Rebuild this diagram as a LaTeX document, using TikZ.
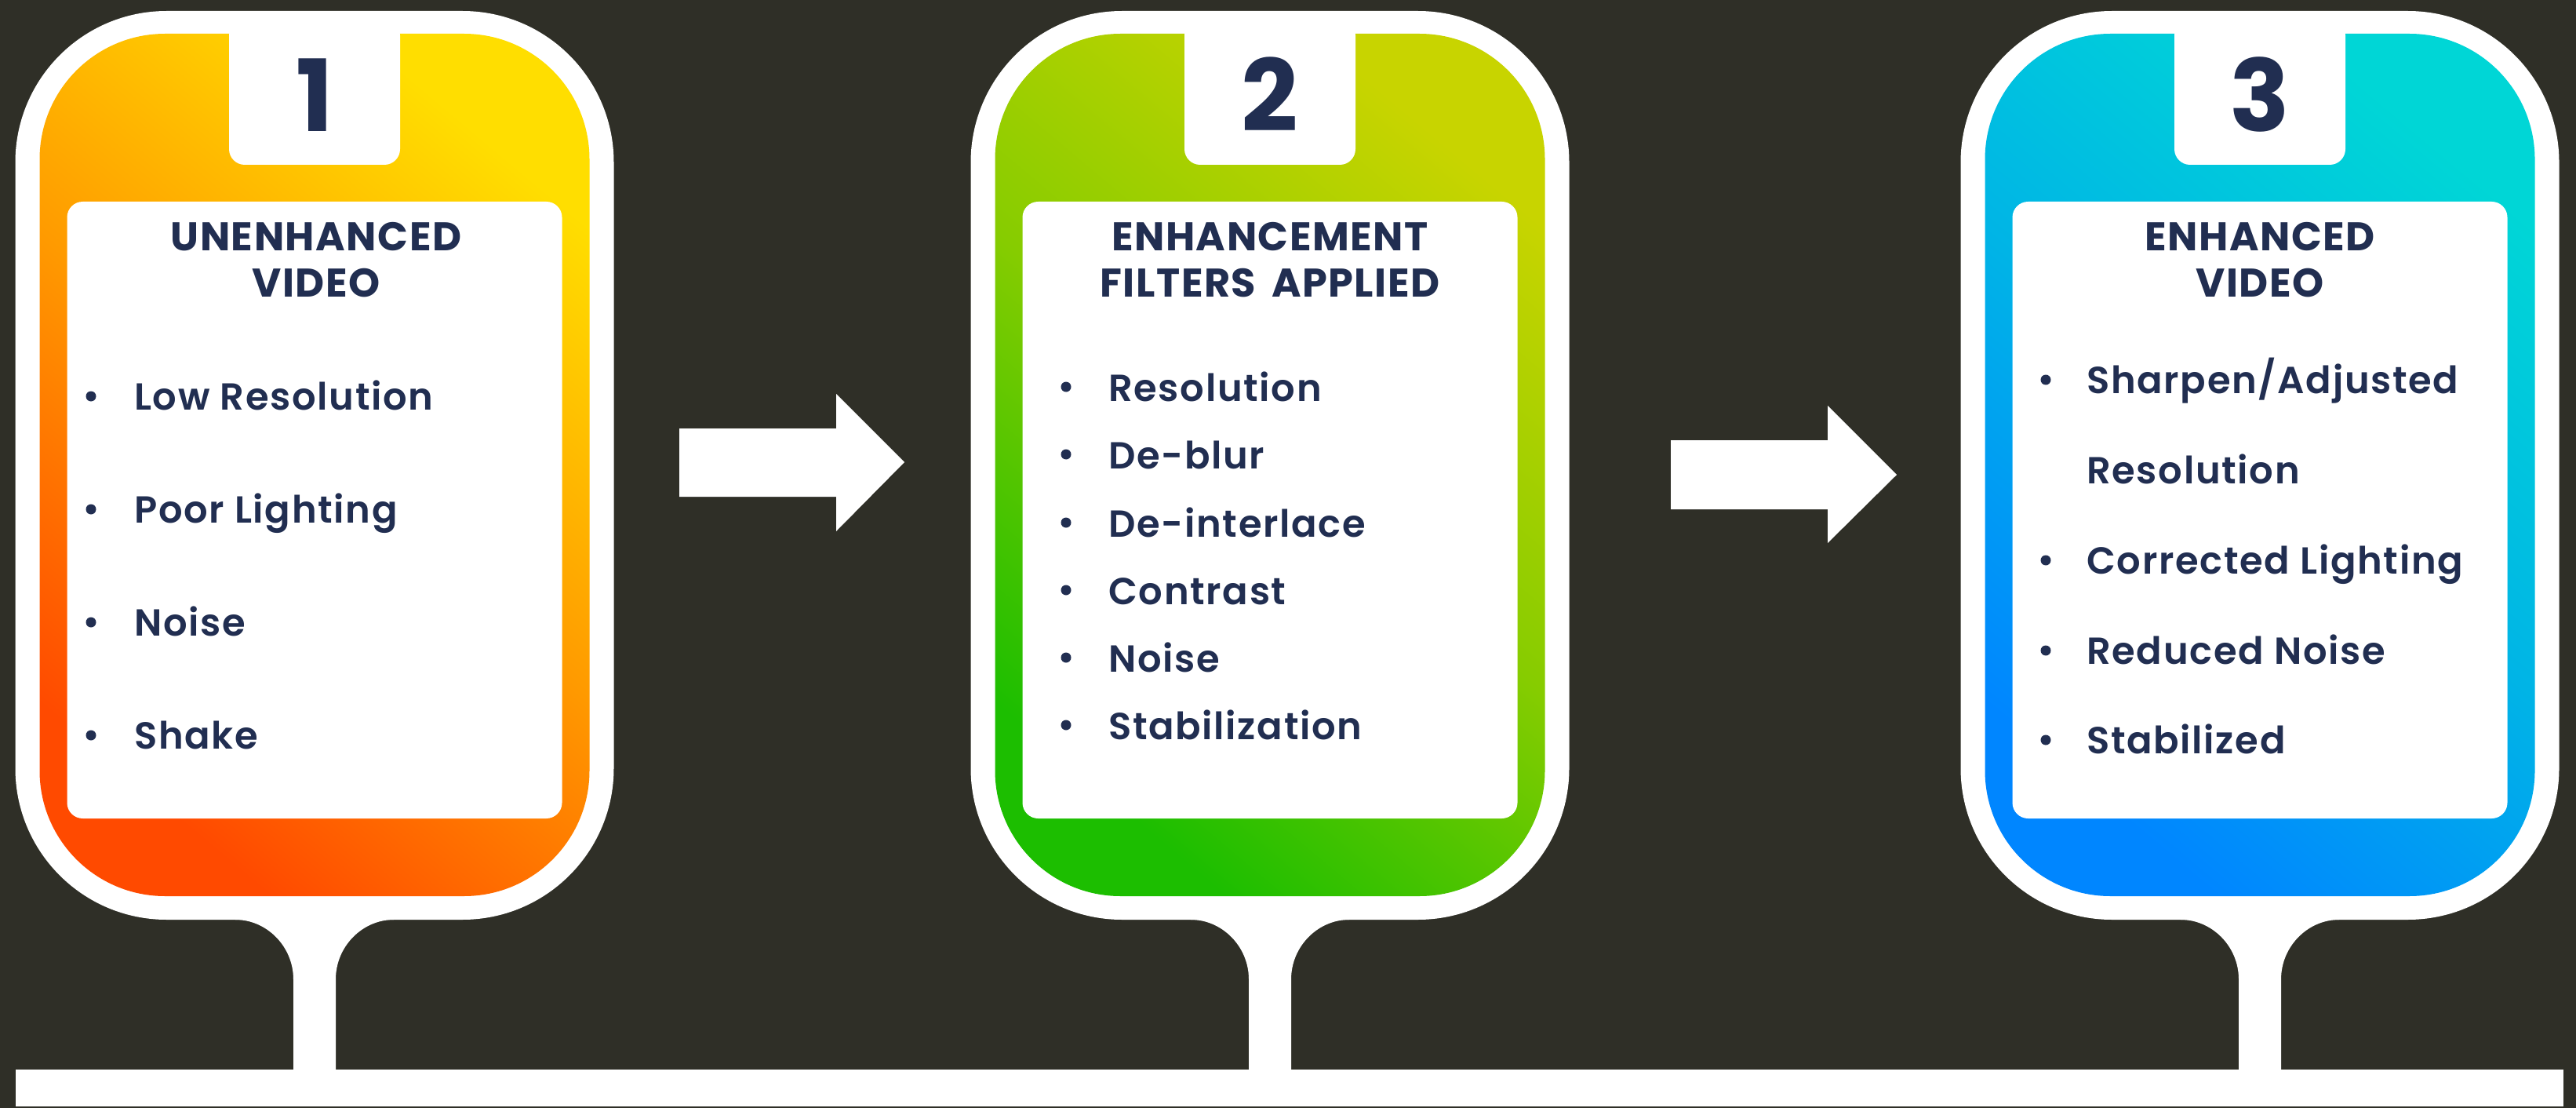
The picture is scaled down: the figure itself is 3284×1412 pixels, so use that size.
\documentclass[tikz,border=0pt]{standalone}
\usepackage{fontspec}
\setmainfont{Poppins}[BoldFont={Poppins Bold}]
\newfontfamily\semifont{Poppins SemiBold}[LetterSpace=3.5]
\newfontfamily\headfont{Poppins Bold}[LetterSpace=3,WordSpace=1.6]
\definecolor{bg}{HTML}{2F2F27}
\definecolor{ink}{HTML}{212E51}
\definecolor{oA}{HTML}{FFDE00}
\definecolor{oM}{HTML}{FF9A00}
\definecolor{oB}{HTML}{FF4A00}
\definecolor{gA}{HTML}{C8D400}
\definecolor{gM}{HTML}{86CC00}
\definecolor{gB}{HTML}{1CBE00}
\definecolor{bA}{HTML}{00D6D6}
\definecolor{bM}{HTML}{00B4E6}
\definecolor{bB}{HTML}{0086FF}
\tikzset{
  heading/.style={font=\headfont\fontsize{51}{60}\selectfont, text=ink, anchor=base, inner sep=0pt},
  itemtext/.style={font=\semifont\fontsize{48}{56}\selectfont, text=ink, anchor=base west, inner sep=0pt},
  numtext/.style={font=\bfseries\fontsize{127}{150}\selectfont, text=ink, anchor=base, inner sep=0pt},
  bulletdot/.style={circle, fill=ink, minimum size=13pt, inner sep=0pt},
  whiteshape/.style={fill=white},
}
\newcommand\drawcard[4]{%
  \fill[whiteshape, rounded corners=193pt] (#1-381.5,14) rectangle (#1+381.5,1172);
  \fill[whiteshape] (#1-101,1160) -- (#1-101,1172)
     .. controls (#1-61,1172) and (#1-27,1206) .. (#1-27,1248)
     -- (#1-27,1366) -- (#1+27,1366) -- (#1+27,1248)
     .. controls (#1+27,1206) and (#1+61,1172) .. (#1+101,1172)
     -- (#1+101,1160) -- cycle;
  \shade[top color=#2, bottom color=#3, middle color=#4, shading angle=-40, rounded corners=160pt]
     (#1-350.5,43) rectangle (#1+350.5,1142);
  \fill[whiteshape, rounded corners=20pt] (#1-109,25) rectangle (#1+109,210);
  \fill[whiteshape, rounded corners=20pt] (#1-315.5,257) rectangle (#1+315.5,1043);
}
\begin{document}
\begin{tikzpicture}[x=1pt,y=-1pt]
\useasboundingbox (0,0) rectangle (3284,1412);
\fill[bg] (0,0) rectangle (3284,1412);

\drawcard{401}{oA}{oB}{oM}
\drawcard{1619}{gA}{gB}{gM}
\drawcard{2881}{bA}{bB}{bM}

% base bar
\fill[whiteshape] (20,1363) rectangle (3268,1410);

% arrows
\fill[whiteshape] (866,546) -- (1066,546) -- (1066,502) -- (1153,589) -- (1066,677) -- (1066,633) -- (866,633) -- cycle;
\fill[whiteshape] (2130,561) -- (2330,561) -- (2330,517) -- (2418,605) -- (2330,692) -- (2330,649) -- (2130,649) -- cycle;

% card 1
\node[numtext] (n1) at (401,168) {1};
\node[heading] (h1a) at (403,320) {UNENHANCED};
\node[heading] (h1b) at (403,378) {VIDEO};
\node[bulletdot] (b1a) at (116,505) {};
\node[itemtext] (t1a) at (171,522) {Low Resolution};
\node[bulletdot] (b1b) at (116,649) {};
\node[itemtext] (t1b) at (171,666) {Poor Lighting};
\node[bulletdot] (b1c) at (116,793) {};
\node[itemtext] (t1c) at (171,810) {Noise};
\node[bulletdot] (b1d) at (116,937) {};
\node[itemtext] (t1d) at (171,954) {Shake};

% card 2
\node[numtext] (n2) at (1619,168) {2};
\node[heading] (h2a) at (1619,320) {ENHANCEMENT};
\node[heading] (h2b) at (1619,378) {FILTERS APPLIED};
\node[bulletdot] (b2a) at (1359,493) {};
\node[itemtext] (t2a) at (1413,511) {Resolution};
\node[bulletdot] (b2b) at (1359,579) {};
\node[itemtext] (t2b) at (1413,597) {De-blur};
\node[bulletdot] (b2c) at (1359,666) {};
\node[itemtext] (t2c) at (1413,684) {De-interlace};
\node[bulletdot] (b2d) at (1359,752) {};
\node[itemtext] (t2d) at (1413,770) {Contrast};
\node[bulletdot] (b2e) at (1359,838) {};
\node[itemtext] (t2e) at (1413,856) {Noise};
\node[bulletdot] (b2f) at (1359,924) {};
\node[itemtext] (t2f) at (1413,942) {Stabilization};

% card 3
\node[numtext] (n3) at (2881,168) {3};
\node[heading] (h3a) at (2881,320) {ENHANCED};
\node[heading] (h3b) at (2881,378) {VIDEO};
\node[bulletdot] (b3a) at (2608,484) {};
\node[itemtext] (t3a) at (2660,501) {Sharpen/Adjusted};
\node[itemtext] (t3b) at (2660,616) {Resolution};
\node[bulletdot] (b3c) at (2608,714) {};
\node[itemtext] (t3c) at (2660,731) {Corrected Lighting};
\node[bulletdot] (b3d) at (2608,829) {};
\node[itemtext] (t3d) at (2660,846) {Reduced Noise};
\node[bulletdot] (b3e) at (2608,943) {};
\node[itemtext] (t3e) at (2660,960) {Stabilized};
\end{tikzpicture}
\end{document}
